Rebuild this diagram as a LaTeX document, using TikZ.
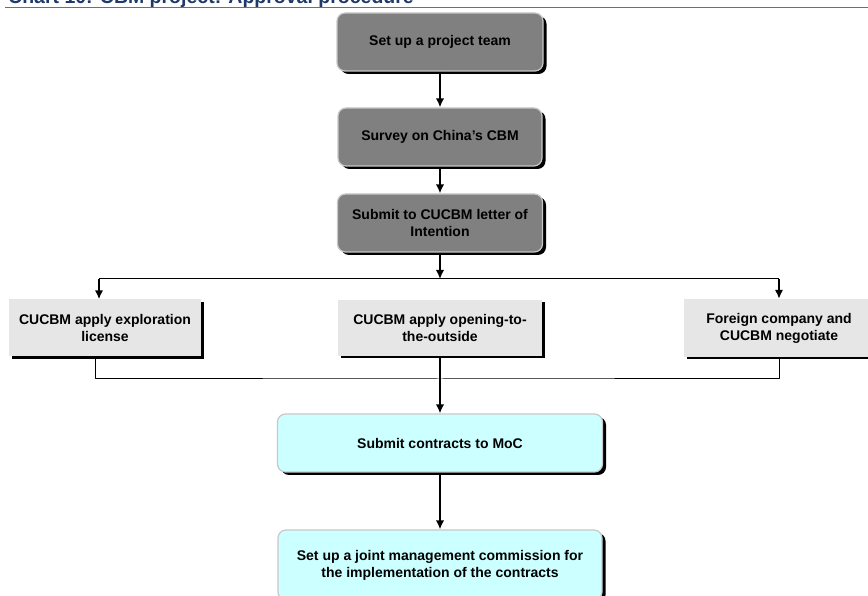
\documentclass[tikz,border=0pt]{standalone}
\usepackage{fontspec}
\setmainfont{Liberation Sans}
\usetikzlibrary{shadows,arrows.meta}
\definecolor{chartteal}{HTML}{1E8FA0}
\definecolor{chartnavy}{HTML}{1F3A68}
\definecolor{boxgray}{HTML}{808080}
\definecolor{boxlight}{HTML}{E6E6E6}
\definecolor{boxcyan}{HTML}{CCFFFF}
\definecolor{rimgray}{HTML}{C8C8C8}
\tikzset{
  boxfont/.style={align=center,font=\fontsize{14bp}{17bp}\selectfont\bfseries},
  stagebox/.style={boxfont,rounded corners=8bp,draw=rimgray,line width=1.2bp,fill=boxgray,
    drop shadow={shadow xshift=3.5bp,shadow yshift=-3bp,fill=black,opacity=1}},
  optionbox/.style={boxfont,fill=boxlight,
    drop shadow={shadow xshift=3bp,shadow yshift=-2.5bp,fill=black,opacity=1}},
  finalbox/.style={boxfont,rounded corners=8bp,draw=rimgray,line width=1.2bp,fill=boxcyan,
    drop shadow={shadow xshift=3.5bp,shadow yshift=-3bp,fill=black,opacity=1}},
}
\begin{document}
\begin{tikzpicture}[>={Latex[length=9bp,width=8.5bp]},line join=bevel,]
\useasboundingbox (0bp,0bp) rectangle (868bp,596bp);
%%
\node (title) at (8bp,592bp) [anchor=base west,inner sep=0pt,text=chartnavy,font=\fontsize{19.5bp}{22bp}\selectfont\bfseries] {Chart 10: CBM project: Approval procedure};
\draw [chartteal,line width=1.8bp] (5bp,588.5bp) -- (868bp,588.5bp);
%
\node (node_team) at (440bp,554bp) [stagebox,minimum width=206bp,minimum height=58bp] {Set up a project team};
  \node (node_survey) at (440bp,459bp) [stagebox,minimum width=204bp,minimum height=58bp] {Survey on China’s CBM};
  \node (node_letter) at (440bp,373bp) [stagebox,minimum width=205bp,minimum height=58bp] {Submit to CUCBM letter of\\Intention};
  \coordinate (split) at (440bp,317bp);
  \node (node_licence) at (105bp,268bp) [optionbox,minimum width=192bp,minimum height=57bp] {CUCBM apply exploration\\license};
  \node (node_open) at (440bp,268bp) [optionbox,minimum width=204bp,minimum height=56bp] {CUCBM apply opening-to-\\the-outside};
  \node (node_foreign) at (779bp,268bp) [optionbox,minimum width=190bp,minimum height=58bp] {Foreign company and\\CUCBM negotiate};
  \coordinate (merge) at (440bp,217bp);
  \node (node_moc) at (440bp,153bp) [finalbox,minimum width=325bp,minimum height=58bp] {Submit contracts to MoC};
  \node (node_commission) at (440bp,31bp) [finalbox,minimum width=324bp,minimum height=70bp] {Set up a joint management commission for\\the implementation of the contracts};
%
  \draw [black,->,line width=2.2bp] (node_team.south) -- (node_survey.north);
  \draw [black,->,line width=2.2bp] (node_survey.south) -- (node_letter.north);
  \draw [black,->,line width=2.2bp] (node_letter.south) -- (split);
  \draw [black,line width=1bp] ([xshift=-6bp]node_licence.north |- split) -- (node_foreign.north |- split);
  \draw [black,->,line width=1.8bp] ([xshift=-6bp]node_licence.north |- split) -- ([xshift=-6bp]node_licence.north);
  \draw [black,->,line width=1.8bp] (node_foreign.north |- split) -- (node_foreign.north);
  \draw [black,line width=1bp] ([xshift=-10bp]node_licence.south) |- (merge) -| (node_foreign.south);
  \draw [black,->,line width=2.2bp] (node_open.south) -- (node_moc.north);
  \draw [black,->,line width=2.2bp] (node_moc.south) -- (node_commission.north);
%
\end{tikzpicture}
\end{document}
